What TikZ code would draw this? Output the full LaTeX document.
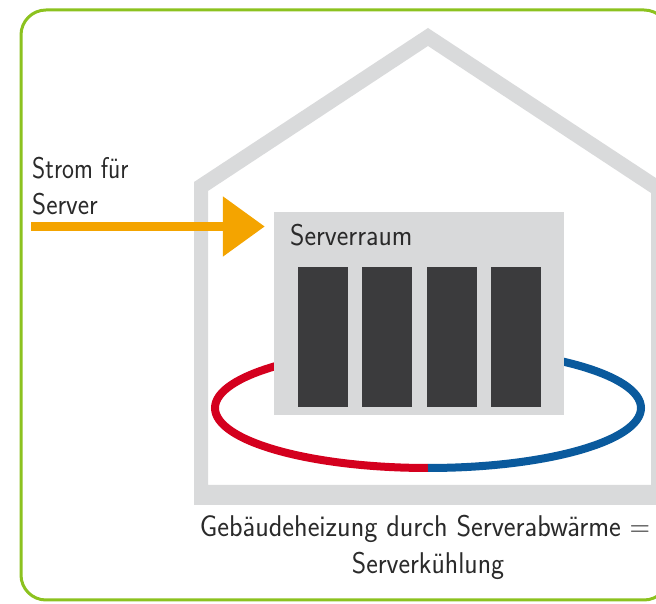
\documentclass[tikz,border=0pt]{standalone}
\usepackage{fontspec}
\usetikzlibrary{arrows.meta}

\definecolor{framegreen}{HTML}{8CC21F}
\definecolor{wallgray}{HTML}{D9DADB}
\definecolor{roomgray}{HTML}{D8D9DA}
\definecolor{rackdark}{HTML}{3B3B3D}
\definecolor{hotred}{HTML}{D4001E}
\definecolor{coldblue}{HTML}{0A5A9D}
\definecolor{powerorange}{HTML}{F4A400}
\definecolor{inkgray}{HTML}{2A2A2A}

% horizontally condensed text
\newcommand{\narrowtext}[2]{\scalebox{#1}[1]{#2}}

\tikzset{
  label text/.style={inner sep=0pt, text=inkgray,
    font=\sffamily\fontsize{30}{36}\selectfont},
  roombox/.style={fill=roomgray, minimum width=290pt, minimum height=203pt, inner sep=0pt},
  rack/.style={fill=rackdark, minimum width=50pt, minimum height=140pt, inner sep=0pt},
  powerarrow/.style={draw=powerorange, line width=9pt, shorten >=9pt,
    -{Triangle[length=42pt,width=58pt]}},
  pipe/.style={line width=8pt},
}

\begin{document}
\begin{tikzpicture}[x=1pt,y=1pt]
\useasboundingbox (0,0) rectangle (656,604);

% outer frame (its right side runs past the page edge)
\draw[framegreen, line width=3pt, rounded corners=25pt] (21,4) rectangle (669,594);

% house outline (walls and roof)
\fill[wallgray, even odd rule]
  (194,99) -- (194,422) -- (428,576) -- (665,420) -- (665,99) -- cycle
  (208,119) -- (208,413) -- (428,558) -- (651,411) -- (651,119) -- cycle;

% heating / cooling loop
\coordinate (loop) at (428,196);
\draw[pipe, hotred] (loop) ++(0,-60pt)
  arc[start angle=270, end angle=90, x radius=213pt, y radius=60pt];
\draw[pipe, coldblue] (loop) ++(0,-60pt)
  arc[start angle=-90, end angle=90, x radius=213pt, y radius=60pt];

% server room with racks
\node[roombox] (room) at (419,290.5) {};
\node[rack] (rack1) at (322.5,267) {};
\node[rack] (rack2) at (387,267) {};
\node[rack] (rack3) at (451.5,267) {};
\node[rack] (rack4) at (516,267) {};

% power supply
\coordinate (pwr-in) at (31,377.5);
\draw[powerarrow] (pwr-in) -- (pwr-in -| room.west);

% labels
\node[label text, anchor=base west] (strom1) at (32,425) {\narrowtext{0.845}{Strom für}};
\node[label text, anchor=base west] (strom2) at (32,389) {\narrowtext{0.9}{Server}};
\node[label text, anchor=base west] (roomlabel) at (290,358) {\narrowtext{0.92}{Serverraum}};
\node[label text, anchor=base] (caption1) at (425,67) {\narrowtext{0.935}{Gebäudeheizung durch Serverabwärme =}};
\node[label text, anchor=base] (caption2) at (428,30) {\narrowtext{0.92}{Serverkühlung}};
\end{tikzpicture}
\end{document}
